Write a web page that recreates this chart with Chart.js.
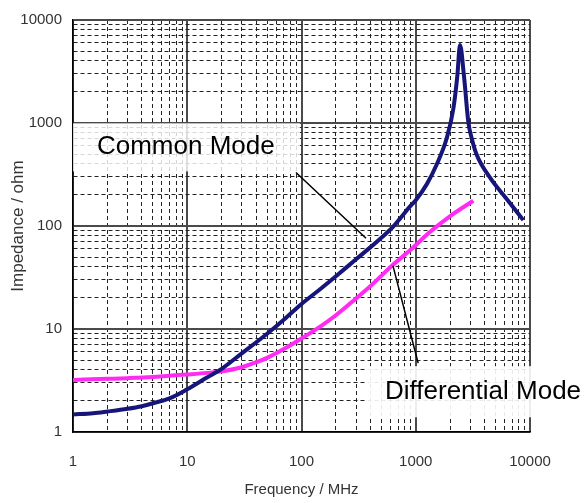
<!DOCTYPE html>
<html>
<head>
<meta charset="utf-8">
<script src="https://cdn.jsdelivr.net/npm/chart.js@4.4.1/dist/chart.umd.min.js"></script>
<style>
    html, body {margin: 0; padding: 0; background: #fff;}
    #impedanceChart {display: block;}
</style>
</head>
<body>
<canvas id="impedanceChart" width="587" height="503"></canvas>
<script>
// frequency in MHz, impedance in ohm
const commonModeFreq = [1, 1.5, 2, 3, 4, 5, 7, 10, 15, 20, 30, 50, 70, 100, 150, 200, 300, 400, 500, 632, 728, 891, 1000, 1250, 1525, 1866, 2133, 2311, 2440, 2643, 2885, 3100, 3415, 4467, 6250, 8730];
const commonModeZ = [1.48, 1.52, 1.58, 1.68, 1.78, 1.9, 2.12, 2.6, 3.4, 4.1, 5.8, 9.0, 12.3, 17.5, 25, 32.5, 47.5, 62, 77, 98, 118, 155, 178, 255, 395, 710, 1374, 2857, 5730, 2857, 1024, 700, 492, 295, 183, 114];

const diffModeFreq = [1, 2, 3, 5, 7, 10, 15, 20, 30, 40, 50, 70, 100, 150, 200, 300, 400, 632, 891, 1290, 2000, 3190];
const diffModeZ = [3.2, 3.28, 3.33, 3.42, 3.52, 3.62, 3.75, 3.88, 4.25, 4.75, 5.25, 6.4, 8.1, 10.8, 13.6, 19.8, 26, 42, 58, 85, 125, 176];

const freqLabels = [1, 10, 100, 1000, 10000];
const impedanceLabels = [1, 10, 100, 1000, 10000];
const minorSteps = [2, 3, 4, 5, 6, 7, 8, 9];

const tickFont = {family: "'Liberation Sans', Arial, sans-serif", size: 15};

function toPoints(xs, ys) {
    return xs.map((x, i) => ({x: x, y: ys[i]}));
}

function decadeTicks(labels) {
    return function (scale) {
        const ticks = [];
        labels.forEach(d => {
            ticks.push({value: d, major: true});
            if (d < scale.max) {
                minorSteps.forEach(m => ticks.push({value: d * m, major: false}));
            }
        });
        scale.ticks = ticks.filter(t => t.value <= scale.max);
    };
}

const isMajor = (labels, ctx) => ctx.tick && labels.includes(ctx.tick.value);

const notes = {
    id: 'notes',
    afterDatasetsDraw(chart) {
        const c = chart.ctx;
        const x = chart.scales.x;
        const y = chart.scales.y;
        c.save();

        // Common Mode label
        let bl = x.getPixelForValue(1), br = x.getPixelForValue(97);
        let bt = y.getPixelForValue(995), bb = y.getPixelForValue(339);
        c.fillStyle = 'rgba(255,255,255,0.82)';
        c.fillRect(bl, bt, br - bl, bb - bt);

        // Differential Mode label
        let dl = x.getPixelForValue(374);
        let dt = y.getPixelForValue(4.36), db = y.getPixelForValue(1.39);
        c.fillStyle = 'rgba(255,255,255,0.9)';
        c.fillRect(dl, dt, chart.width - dl, db - dt);

        c.strokeStyle = '#000';
        c.lineWidth = 1.5;
        c.beginPath();
        c.moveTo(x.getPixelForValue(89.5), y.getPixelForValue(331));
        c.lineTo(x.getPixelForValue(367), y.getPixelForValue(76));
        c.moveTo(x.getPixelForValue(632), y.getPixelForValue(41));
        c.lineTo(x.getPixelForValue(1050), y.getPixelForValue(4.66));
        c.stroke();

        c.fillStyle = '#000';
        c.font = "26px 'Liberation Sans', Arial, sans-serif";
        c.textBaseline = 'middle';
        c.textAlign = 'left';
        c.fillText('Common Mode', x.getPixelForValue(1.62), y.getPixelForValue(587));
        c.fillText('Differential Mode', x.getPixelForValue(538), y.getPixelForValue(2.46));
        c.restore();
    }
};

document.addEventListener('DOMContentLoaded', () => {
    const ctx = document.getElementById('impedanceChart').getContext('2d');

    new Chart(ctx, {
        type: 'line',
        data: {
            datasets: [
                {
                    label: 'Common Mode',
                    data: toPoints(commonModeFreq, commonModeZ),
                    borderColor: '#15157a',
                    borderWidth: 4,
                    pointRadius: 0,
                    cubicInterpolationMode: 'monotone',
                    fill: false
                },
                {
                    label: 'Differential Mode',
                    data: toPoints(diffModeFreq, diffModeZ),
                    borderColor: '#ff2bf2',
                    borderWidth: 4,
                    pointRadius: 0,
                    cubicInterpolationMode: 'monotone',
                    fill: false
                }
            ]
        },
        options: {
            responsive: false,
            animation: false,
            devicePixelRatio: 1,
            layout: {padding: {left: 0, top: 13, right: 57, bottom: 0}},
            plugins: {
                legend: {display: false},
                tooltip: {enabled: false}
            },
            scales: {
                x: {
                    type: 'logarithmic',
                    min: 1,
                    max: 10000,
                    afterBuildTicks: decadeTicks(freqLabels),
                    afterFit: scale => { scale.height = 71; },
                    ticks: {
                        autoSkip: false,
                        maxRotation: 0,
                        padding: 21,
                        color: '#333',
                        font: tickFont,
                        callback: v => freqLabels.includes(v) ? String(v) : ''
                    },
                    grid: {
                        drawTicks: false,
                        color: c => isMajor(freqLabels, c) ? '#4a4a4a' : '#222',
                        lineWidth: c => isMajor(freqLabels, c) ? 2 : 1
                    },
                    border: {
                        color: '#000',
                        width: 1.5,
                        dash: c => (c.tick && !freqLabels.includes(c.tick.value)) ? [4, 3] : []
                    },
                    title: {
                        display: true,
                        text: 'Frequency / MHz',
                        color: '#333',
                        font: tickFont,
                        padding: {top: 0, bottom: 4}
                    }
                },
                y: {
                    type: 'logarithmic',
                    min: 1,
                    max: 10000,
                    afterBuildTicks: decadeTicks(impedanceLabels),
                    afterFit: scale => { scale.width = 73; },
                    ticks: {
                        autoSkip: false,
                        padding: 11,
                        color: '#333',
                        font: tickFont,
                        callback: v => impedanceLabels.includes(v) ? String(v) : ''
                    },
                    grid: {
                        drawTicks: false,
                        color: c => isMajor(impedanceLabels, c) ? '#4a4a4a' : '#222',
                        lineWidth: c => isMajor(impedanceLabels, c) ? 2 : 1
                    },
                    border: {
                        color: '#000',
                        width: 1.5,
                        dash: c => (c.tick && !impedanceLabels.includes(c.tick.value)) ? [4, 3] : []
                    },
                    title: {
                        display: true,
                        text: 'Impedance / ohm',
                        color: '#333',
                        font: {family: "'Liberation Sans', Arial, sans-serif", size: 17},
                        padding: {top: 8, bottom: 0}
                    }
                }
            }
        },
        plugins: [notes]
    });
});
</script>
</body>
</html>
